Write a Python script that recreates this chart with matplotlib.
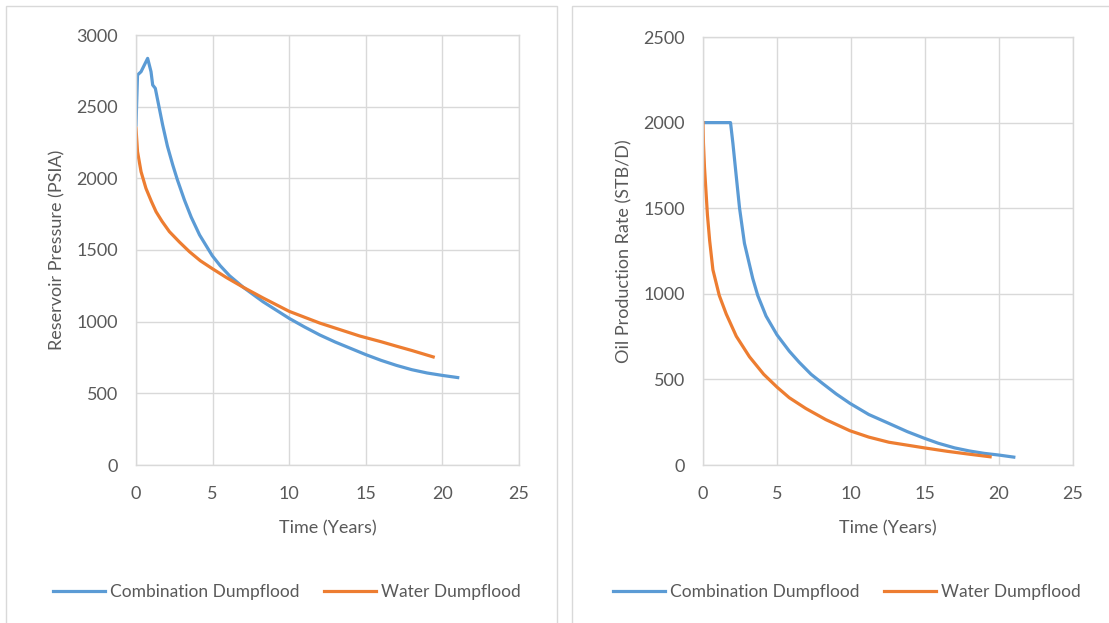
# Two Excel-style dumpflood comparison charts side by side
import matplotlib.pyplot as plt
from matplotlib.patches import Rectangle
from matplotlib.lines import Line2D

# ── Data ────────────────────────────────────────────────────
series_names = ["Combination Dumpflood", "Water Dumpflood"]

# Reservoir pressure (PSIA)
p_comb_t = [0, 0.1, 0.33, 0.76, 0.98, 1.09, 1.26, 1.5, 1.74, 2.05, 2.4, 2.7,
            3.16, 3.6, 4.15, 4.98, 5.5, 6.11, 7.0, 8.29, 10, 11, 12, 13, 14,
            15, 16, 17, 18, 19, 20, 21]
p_comb = [2372, 2721, 2744, 2837, 2744, 2651, 2628, 2500, 2372, 2225, 2093,
          1990, 1849, 1730, 1605, 1460, 1390, 1320, 1240, 1139, 1023, 963,
          907, 858, 814, 770, 730, 695, 665, 642, 625, 610]
p_water_t = [0, 0.1, 0.33, 0.65, 1.0, 1.31, 1.7, 2.18, 2.84, 3.49, 4.2, 4.98,
             5.9, 7.0, 8.3, 10, 12, 14.6, 16, 17, 18, 19.4]
p_water = [2349, 2186, 2046, 1930, 1840, 1767, 1700, 1628, 1555, 1488, 1425,
           1370, 1308, 1240, 1165, 1072, 990, 900, 860, 829, 799, 754]

# Oil production rate (STB/D)
q_comb_t = [0, 1.86, 2.02, 2.25, 2.47, 2.8, 3.36, 3.7, 4.26, 5.0, 5.83, 6.5,
            7.3, 8.07, 9.0, 9.93, 11.2, 12.56, 13.8, 14.96, 15.9, 17, 18, 19,
            20, 21]
q_comb = [2000, 2000, 1879, 1684, 1500, 1295, 1090, 990, 870, 760, 665, 600,
          530, 477, 415, 360, 295, 243, 195, 156, 127, 100, 82, 68, 58, 46]
q_water_t = [0, 0.03, 0.1, 0.2, 0.3, 0.45, 0.67, 1.1, 1.57, 2.25, 3.14, 4.1,
             5.0, 5.83, 6.95, 8.3, 9.93, 11.2, 12.56, 14.96, 16.5, 18, 19.4]
q_water = [2000, 1880, 1740, 1600, 1460, 1310, 1140, 990, 882, 752, 632, 530,
           455, 393, 330, 265, 200, 163, 133, 100, 80, 63, 48]

# ── Style ───────────────────────────────────────────────────
BLUE = "#5b9bd5"
ORANGE = "#ed7d31"
TEXT = "#595959"
GRID = "#d9d9d9"
plt.rcParams["font.family"] = ["Lato", "DejaVu Sans"]

W, H = 1109, 623
fig = plt.figure(figsize=(W / 100, H / 100), dpi=100)
fig.patch.set_facecolor("white")

# chart area borders
for x0, x1 in [(6, 557), (572, 1115)]:
    fig.patches.append(Rectangle((x0 / W, -0.05), (x1 - x0) / W, 1.05 - 6 / H,
                                 transform=fig.transFigure, fill=False,
                                 edgecolor=GRID, linewidth=1))


def style_axes(ax, ymax, ylabel):
    ax.set_xlim(0, 25)
    ax.set_ylim(0, ymax)
    ax.set_xticks(range(0, 26, 5))
    ax.set_yticks(range(0, ymax + 1, 500))
    ax.grid(True, color=GRID, linewidth=1)
    ax.set_axisbelow(True)
    for s in ax.spines.values():
        s.set_color(GRID)
        s.set_linewidth(1)
    ax.tick_params(length=0, colors=TEXT, labelsize=13)
    ax.tick_params(axis="x", pad=15)
    ax.tick_params(axis="y", pad=13)
    ax.set_xlabel("Time (Years)", color=TEXT, fontsize=13, labelpad=13)
    ax.set_ylabel(ylabel, color=TEXT, fontsize=13, labelpad=8)


# ── Left: Reservoir Pressure ────────────────────────────────
ax1 = fig.add_axes([136 / W, 1 - 465 / H, (519 - 136) / W, (465 - 35) / H])
ax1.plot(p_comb_t, p_comb, color=BLUE, linewidth=2.3)
ax1.plot(p_water_t, p_water, color=ORANGE, linewidth=2.3)
style_axes(ax1, 3000, "Reservoir Pressure (PSIA)")

# ── Right: Oil Production Rate ──────────────────────────────
ax2 = fig.add_axes([703 / W, 1 - 465 / H, (1073 - 703) / W, (465 - 37) / H])
ax2.plot(q_comb_t, q_comb, color=BLUE, linewidth=2.3)
ax2.plot(q_water_t, q_water, color=ORANGE, linewidth=2.3)
style_axes(ax2, 2500, "Oil Production Rate (STB/D)")

# ── Legends ─────────────────────────────────────────────────
handles = [Line2D([], [], color=BLUE, linewidth=2.3),
           Line2D([], [], color=ORANGE, linewidth=2.3)]
for cx in (287 / W, 847 / W):
    fig.legend(handles, series_names, loc="center",
               bbox_to_anchor=(cx, 1 - 592 / H), ncol=2, frameon=False,
               fontsize=12.5, labelcolor=TEXT, handlelength=3.0,
               handletextpad=0.3, columnspacing=1.4)

plt.savefig("out.png", dpi=100, facecolor="white")
